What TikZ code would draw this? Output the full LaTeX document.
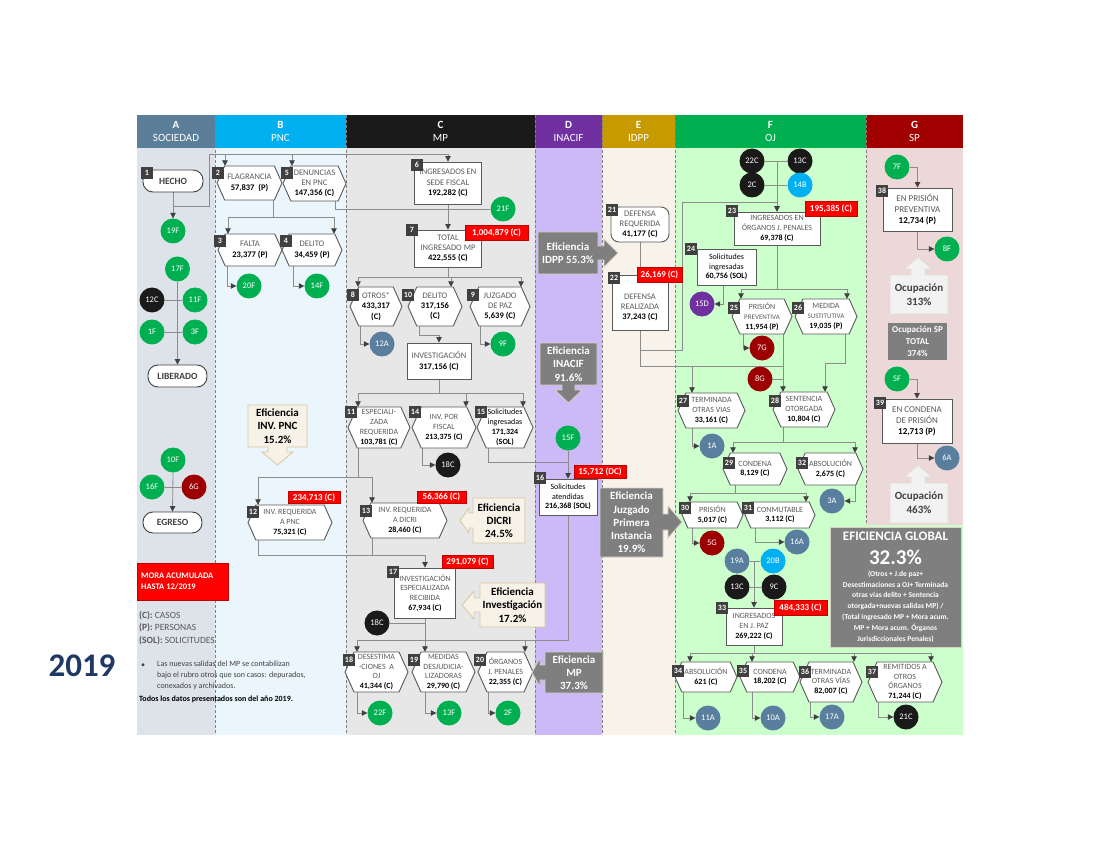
\documentclass[tikz,border=0pt]{standalone}
\usepackage{fontspec}
\setmainfont{Carlito}
\usetikzlibrary{arrows.meta}
\definecolor{bgA}{HTML}{DDE3E9}
\definecolor{bgB}{HTML}{EAF6FC}
\definecolor{bgC}{HTML}{E7E7E7}
\definecolor{bgD}{HTML}{CCB9F7}
\definecolor{bgE}{HTML}{F8F3EA}
\definecolor{bgF}{HTML}{CCFFCC}
\definecolor{bgG}{HTML}{ECD8D8}
\definecolor{hdA}{HTML}{5B7F99}
\definecolor{hdB}{HTML}{00B0F0}
\definecolor{hdC}{HTML}{1A1A1A}
\definecolor{hdD}{HTML}{7030A0}
\definecolor{hdE}{HTML}{C79A00}
\definecolor{hdF}{HTML}{00B050}
\definecolor{hdG}{HTML}{A00000}
\definecolor{lblgray}{HTML}{5A5A5A}
\definecolor{boxc}{HTML}{595959}
\definecolor{linec}{HTML}{8C8C8C}
\definecolor{tipc}{HTML}{404040}
\definecolor{badgec}{HTML}{404040}
\definecolor{cgreen}{HTML}{00B050}
\definecolor{cblack}{HTML}{1A1A1A}
\definecolor{cblue}{HTML}{5A7F9E}
\definecolor{cdred}{HTML}{9C0000}
\definecolor{ccyan}{HTML}{00B0F0}
\definecolor{cpurple}{HTML}{7030A0}
\definecolor{callg}{HTML}{7F7F7F}
\definecolor{callgb}{HTML}{D9D2C3}
\definecolor{cream}{HTML}{F6F2E8}
\definecolor{creamb}{HTML}{D6C6A3}
\definecolor{ocup}{HTML}{F2F2F2}
\definecolor{ocupb}{HTML}{E3DDCB}
\definecolor{navy}{HTML}{1F3864}
\definecolor{redb}{HTML}{C00000}
\pgfdeclarelayer{back}
\pgfdeclarelayer{lines}
\pgfsetlayers{back,lines,main}
\newcommand\lbl[1]{{\color{lblgray}#1}}
\newcommand\nmb[1]{{\bfseries\color{black}#1}}
\newcommand\hexn[7][]{%
  \draw[hexd] ({#3-#5},#4) -- ({#3-#5+0.45*#6},{#4-#6}) -- ({#3+#5-0.45*#6},{#4-#6}) -- ({#3+#5},#4) -- ({#3+#5-0.45*#6},{#4+#6}) -- ({#3-#5+0.45*#6},{#4+#6}) -- cycle;
  \node[txt,minimum width={2*#5},minimum height={2*#6},#1] (#2) at (#3,#4) {#7};}
\newcommand\badge[2]{\node[badge] (b#1) at (#2) {#1};}
\newcommand\circn[4]{\node[circ,fill=#4] (#1) at (#2) {#3};}
\begin{document}
\begin{tikzpicture}[x=1pt,y=-1pt,
  txt/.style={align=center, inner sep=0pt, font=\fontsize{8.5}{10.3}\selectfont},
  sm/.style={font=\fontsize{8}{9.8}\selectfont},
  hexd/.style={draw=boxc, fill=white, line width=0.9pt},
  rbx/.style={txt, draw=boxc, fill=white, line width=0.9pt},
  rnd/.style={draw=tipc, fill=white, line width=0.9pt, rounded corners=10pt, inner sep=0pt, font=\bfseries\fontsize{9.5}{11}\selectfont, text=tipc},
  badge/.style={fill=badgec, text=white, inner sep=0pt, minimum width=11.5, minimum height=12, font=\bfseries\fontsize{8}{9}\selectfont},
  circ/.style={circle, inner sep=0pt, minimum size=25, text=white, font=\fontsize{8.5}{9}\selectfont},
  redl/.style={fill=red, draw=redb, line width=0.5pt, text=white, inner sep=0pt, font=\bfseries\fontsize{9}{10}\selectfont},
  conn/.style={draw=linec, line width=0.8pt},
  arr/.style={conn, -{Triangle[length=5.5pt,width=5.5pt,color=tipc]}},
  colsep/.style={draw=gray, line width=0.7pt, dash pattern=on 3pt off 2pt},
  hdr/.style={text=white, align=center, inner sep=0pt, font=\fontsize{11}{13}\selectfont},
  cgr/.style={fill=callg, draw=callgb, line width=0.8pt},
  cgt/.style={text=white, align=center, inner sep=0pt, font=\bfseries\fontsize{11}{13.3}\selectfont},
  ccr/.style={fill=cream, draw=creamb, line width=0.8pt},
  cct/.style={text=black, align=center, inner sep=0pt, font=\bfseries\fontsize{11}{13.3}\selectfont},
  ocs/.style={fill=ocup, draw=ocupb, line width=0.8pt},
  oct/.style={text=tipc, align=center, inner sep=0pt, font=\bfseries\fontsize{11}{13.7}\selectfont}]
\useasboundingbox (0,0) rectangle (1100,850);
\begin{pgfonlayer}{back}
\fill[white] (0,0) rectangle (1100,850);
\fill[bgA] (137,148) rectangle (215,735);
\fill[bgB] (215,148) rectangle (346,735);
\fill[bgC] (346,148) rectangle (535,735);
\fill[bgD] (535,148) rectangle (602,735);
\fill[bgE] (602,148) rectangle (675,735);
\fill[bgF] (675,148) rectangle (866,735);
\fill[bgG] (866,148) rectangle (963,525);
\fill[bgF] (866,525) rectangle (963,735);
\fill[hdA] (137,115) rectangle (215,148);
\fill[hdB] (215,115) rectangle (346,148);
\fill[hdC] (346,115) rectangle (535,148);
\fill[hdD] (535,115) rectangle (602,148);
\fill[hdE] (602,115) rectangle (675,148);
\fill[hdF] (675,115) rectangle (866,148);
\fill[hdG] (866,115) rectangle (963,148);
\foreach \xx in {215,346,535,602,675} \draw[colsep] (\xx,115) -- (\xx,735);
\draw[colsep] (866,115) -- (866,525);
\end{pgfonlayer}
% headers
\node[hdr] (hA) at (176,131) {\textbf{A}\\SOCIEDAD};
\node[hdr] (hB) at (280.5,131) {\textbf{B}\\PNC};
\node[hdr] (hC) at (440.5,131) {\textbf{C}\\MP};
\node[hdr] (hD) at (568.5,131) {\textbf{D}\\INACIF};
\node[hdr] (hE) at (638.5,131) {\textbf{E}\\IDPP};
\node[hdr] (hF) at (770.5,131) {\textbf{F}\\OJ};
\node[hdr] (hG) at (914.5,131) {\textbf{G}\\SP};
% column A
\node[rnd, minimum width=60, minimum height=22] (n1) at (173,181) {HECHO};
\node[rnd, minimum width=59, minimum height=22] (nLib) at (177.5,376) {LIBERADO};
\node[rnd, minimum width=59, minimum height=21] (nEgr) at (172.5,522.5) {EGRESO};
\badge{1}{147,173}
\circn{c19F}{173,231}{19F}{cgreen}
\circn{c17F}{177.5,269}{17F}{cgreen}
\circn{c12C}{152,300}{12C}{cblack}
\circn{c11F}{195,300}{11F}{cgreen}
\circn{c1F}{152,332}{1F}{cgreen}
\circn{c3F}{195,332}{3F}{cgreen}
\circn{c10F}{173,460}{10F}{cgreen}
\circn{c16F}{152,487}{16F}{cgreen}
\circn{c6G}{194,487}{6G}{cdred}
\node[fill=red, draw=redb, minimum width=91, minimum height=37, inner sep=0] (mora) at (182.5,581.5) {};
\node[anchor=west, align=left, text=white, font=\bfseries\fontsize{8.5}{11}\selectfont, inner sep=0] (moratx) at (141,581.5) {MORA ACUMULADA\\HASTA 12/2019};
\node[anchor=north west, align=left, inner sep=0, text=lblgray, font=\fontsize{9.5}{12.4}\selectfont] (leg) at (139,611) {\textbf{(C):} CASOS\\\textbf{(P):} PERSONAS\\\textbf{(SOL):} SOLICITUDES};
\node[anchor=west, inner sep=0, text=tipc, font=\fontsize{8}{10.7}\selectfont] (bul) at (141,666) {•};
\node[anchor=north west, align=left, inner sep=0, text=tipc, font=\fontsize{8}{10.7}\selectfont] (bultx) at (157,661) {Las nuevas salidas del MP se contabilizan\\bajo el rubro otros que son casos: depurados,\\conexados y archivados.};
\node[anchor=west, inner sep=0, font=\bfseries\fontsize{8}{10}\selectfont] (todos) at (139,699) {Todos los datos presentados son del año 2019.};
\node[text=navy, font=\bfseries\fontsize{33}{35}\selectfont, inner sep=0] (yr) at (82,666) {2019};
% column B
\hexn{n2}{249.5}{183}{32.5}{17}{\lbl{FLAGRANCIA}\\\nmb{57,837~~(P)}}
\hexn{n5}{314.5}{183.5}{31.5}{17.5}{\lbl{DENUNCIAS}\\\lbl{EN PNC}\\\nmb{147,356 (C)}}
\hexn{n3}{250}{250}{32}{16}{\lbl{FALTA}\\\nmb{23,377 (P)}}
\hexn{n4}{312}{250}{30}{16}{\lbl{DELITO}\\\nmb{34,459 (P)}}
\hexn[sm]{n12}{290}{522.5}{42}{17.5}{\lbl{INV. REQUERIDA}\\\lbl{A PNC}\\\nmb{75,321 (C)}}
\badge{2}{218,173}
\badge{5}{287,173}
\badge{3}{220,241}
\badge{4}{286,241}
\badge{12}{253,512}
\circn{c20F}{249,286}{20F}{cgreen}
\circn{c14F}{317,286}{14F}{cgreen}
\filldraw[ccr] (248,405) -- (307,405) -- (307,447) -- (287,447) -- (287,452) -- (293,452) -- (277.5,465) -- (262,452) -- (268,452) -- (268,447) -- (248,447) -- cycle;
\node[cct] (eInv) at (277.5,426) {Eficiencia\\INV. PNC\\15.2\%};
% column C
\node[rbx, minimum width=67, minimum height=42] (n6) at (448,183) {\lbl{INGRESADOS EN}\\\lbl{SEDE FISCAL}\\\nmb{192,282 (C)}};
\node[rbx, minimum width=67, minimum height=37] (n7) at (448,248.5) {\lbl{TOTAL}\\\lbl{INGRESADO MP}\\\nmb{422,555 (C)}};
\hexn{n8}{376}{306.5}{26}{19.5}{\lbl{OTROS*}\\\nmb{433,317}\\\nmb{(C)}}
\hexn{n10}{435}{306.5}{27}{19.5}{\lbl{DELITO}\\\nmb{317,156}\\\nmb{(C)}}
\hexn{n9}{500}{306.5}{30}{19.5}{\lbl{JUZGADO}\\\lbl{DE PAZ}\\\nmb{5,639 (C)}}
\node[rbx, minimum width=64, minimum height=36] (nInv) at (439,361) {\lbl{INVESTIGACIÓN}\\\nmb{317,156 (C)}};
\hexn[sm]{n11}{379}{427.5}{31}{20.5}{\lbl{ESPECIALI-}\\\lbl{ZADA}\\\lbl{REQUERIDA}\\\nmb{103,781 (C)}}
\hexn[sm]{n14}{444}{427.5}{32}{20.5}{\lbl{INV. POR}\\\lbl{FISCAL}\\\nmb{213,375 (C)}}
\hexn[sm]{n15}{505}{427.5}{28}{20.5}{Solicitudes\\ingresadas\\\nmb{171,324}\\\nmb{(SOL)}}
\hexn[sm]{n13}{405}{520.5}{42}{17.5}{\lbl{INV. REQUERIDA}\\\lbl{A DICRI}\\\nmb{28,460 (C)}}
\node[rbx, sm, minimum width=61, minimum height=50] (n17) at (425,593) {\lbl{INVESTIGACIÓN}\\\lbl{ESPECIALIZADA}\\\lbl{RECIBIDA}\\\nmb{67,934 (C)}};
\hexn[sm]{n18}{376.5}{672}{31.5}{20}{\lbl{DESESTIMA}\\\lbl{-CIONES~~A}\\\lbl{OJ}\\\nmb{41,344 (C)}}
\hexn[sm]{n19}{443.5}{672}{31.5}{20}{\lbl{MEDIDAS}\\\lbl{DESJUDICIA-}\\\lbl{LIZADORAS}\\\nmb{29,790 (C)}}
\hexn[sm]{n20}{505.5}{672}{27.5}{20}{\lbl{ÓRGANOS}\\\lbl{J. PENALES}\\\nmb{22,355 (C)}}
\badge{6}{417,165}
\badge{7}{412,230}
\badge{8}{353,295}
\badge{10}{408,295}
\badge{9}{473,295}
\badge{11}{351,412}
\badge{14}{415,412}
\badge{15}{481,412}
\badge{13}{366,511}
\badge{17}{393,572}
\badge{18}{349,660}
\badge{19}{414,660}
\badge{20}{480,660}
\circn{c21F}{503,209}{21F}{cgreen}
\circn{c12A}{382,344}{12A}{cblue}
\circn{c9F}{503,344}{9F}{cgreen}
\circn{c18Ca}{448,465}{18C}{cblack}
\circn{c18Cb}{377,623}{18C}{cblack}
\circn{c22F}{380,713}{22F}{cgreen}
\circn{c13F}{449,713}{13F}{cgreen}
\circn{c2F}{508,713}{2F}{cgreen}
\filldraw[ccr] (473,498) -- (525,498) -- (525,543) -- (473,543) -- (473,528) -- (469,528) -- (469,533) -- (460,520.5) -- (469,508) -- (469,513) -- (473,513) -- cycle;
\node[cct] (eDicri) at (499,520.5) {Eficiencia\\DICRI\\24.5\%};
\filldraw[ccr] (480,583) -- (545,583) -- (545,627) -- (480,627) -- (480,612) -- (474,612) -- (474,619) -- (462,605) -- (474,591) -- (474,598) -- (480,598) -- cycle;
\node[cct] (eInvest) at (512.5,605) {Eficiencia\\Investigación\\17.2\%};
% column D
\node[rbx, sm, minimum width=58, minimum height=36] (n16) at (568,497) {Solicitudes\\atendidas\\\nmb{216,368 (SOL)}};
\badge{16}{540,478}
\circn{c15F}{568,438}{15F}{cgreen}
\filldraw[cgr] (538,232) -- (598,232) -- (598,246) -- (604,246) -- (604,239) -- (618,253) -- (604,267) -- (604,260) -- (598,260) -- (598,274) -- (538,274) -- cycle;
\node[cgt] (eIdpp) at (568,253) {Eficiencia\\IDPP 55.3\%};
\filldraw[cgr] (540,343) -- (597,343) -- (597,385) -- (575,385) -- (575,390) -- (582,390) -- (568.5,403) -- (555,390) -- (562,390) -- (562,385) -- (540,385) -- cycle;
\node[cgt] (eInacif) at (568.5,364) {Eficiencia\\INACIF\\91.6\%};
\filldraw[cgr] (545,652) -- (603,652) -- (603,693) -- (545,693) -- (545,680) -- (540,680) -- (540,687) -- (532,672.5) -- (540,658) -- (540,665) -- (545,665) -- cycle;
\node[cgt] (eMP) at (574,672.5) {Eficiencia\\MP\\37.3\%};
% column E
\node[rbx, minimum width=58, minimum height=35, rounded corners=8pt] (n21) at (640,224.5) {\lbl{DEFENSA}\\\lbl{REQUERIDA}\\\nmb{41,177 (C)}};
\node[rbx, minimum width=56, minimum height=55] (n22) at (640,302.5) {\rule{0pt}{9pt}\\[-4pt]\lbl{DEFENSA}\\\lbl{REALIZADA}\\\nmb{37,243 (C)}};
\badge{21}{612,210}
\badge{22}{614,278}
\filldraw[cgr] (600,488) -- (663,488) -- (663,514) -- (668,514) -- (668,506) -- (682,522) -- (668,538) -- (668,530) -- (663,530) -- (663,557) -- (600,557) -- cycle;
\node[cgt] (eJuz) at (631.5,522.5) {Eficiencia\\Juzgado\\Primera\\Instancia\\19.9\%};
% column F
\node[rbx, sm, minimum width=86, minimum height=33] (n23) at (777,228.5) {\lbl{INGRESADOS EN}\\\lbl{ÓRGANOS J. PENALES}\\\nmb{69,378 (C)}};
\node[rbx, sm, minimum width=59, minimum height=36] (n24) at (726.5,267) {Solicitudes\\ingresadas\\\nmb{60,756 (SOL)}};
\hexn[sm]{n25}{762}{316.5}{30}{17.5}{\lbl{PRISIÓN}\\\lbl{\fontsize{7}{8}\selectfont PREVENTIVA}\\\nmb{11,954 (P)}}
\hexn[sm]{n26}{826}{316.5}{31}{17.5}{\lbl{MEDIDA}\\\lbl{\fontsize{7}{8}\selectfont SUSTITUTIVA}\\\nmb{19,035 (P)}}
\hexn[sm]{n27}{711.5}{410.5}{33.5}{17.5}{\lbl{TERMINADA}\\\lbl{OTRAS VIAS}\\\nmb{33,161 (C)}}
\hexn[sm]{n28}{804}{409.5}{31}{17.5}{\lbl{SENTENCIA}\\\lbl{OTORGADA}\\\nmb{10,804 (C)}}
\hexn[sm]{n29}{755}{469}{32}{16}{\lbl{CONDENA}\\\nmb{8,129 (C)}}
\hexn[sm]{n32}{830.5}{469}{32.5}{16}{\lbl{ABSOLUCIÓN}\\\nmb{2,675 (C)}}
\hexn[sm]{n30}{712.5}{515}{30.5}{13}{\lbl{PRISIÓN}\\\nmb{5,017 (C)}}
\hexn[sm]{n31}{780}{515}{35}{13}{\lbl{CONMUTABLE}\\\nmb{3,112 (C)}}
\node[rbx, sm, minimum width=56, minimum height=37] (n33) at (754,626.5) {\lbl{INGRESADOS}\\\lbl{EN J. PAZ}\\\nmb{269,222 (C)}};
\hexn[sm]{n34}{706}{677}{31}{15}{\lbl{ABSOLUCIÓN}\\\nmb{621 (C)}}
\hexn[sm]{n35}{770}{677}{30}{15}{\lbl{CONDENA}\\\nmb{18,202 (C)}}
\hexn[sm]{n36}{831}{682}{31}{20}{\lbl{TERMINADA}\\\lbl{OTRAS VÍAS}\\\nmb{82,007 (C)}}
\hexn[sm]{n37}{905}{682}{37}{20}{\lbl{REMITIDOS A}\\\lbl{OTROS}\\\lbl{ÓRGANOS}\\\nmb{71,244 (C)}}
\badge{23}{732,211}
\badge{24}{691,249}
\badge{25}{734,308}
\badge{26}{798,308}
\badge{27}{683,401}
\badge{28}{775,401}
\badge{29}{729,463}
\badge{32}{802,463}
\badge{30}{685,508}
\badge{31}{748,508}
\badge{33}{722,608}
\badge{34}{678,671}
\badge{35}{743,671}
\badge{36}{805,672}
\badge{37}{872,672}
\circn{c22C}{752,161}{22C}{cblack}
\circn{c13Ca}{800,161}{13C}{cblack}
\circn{c2C}{752,185}{2C}{cblack}
\circn{c14B}{800,185}{14B}{ccyan}
\circn{c15D}{702,304}{15D}{cpurple}
\circn{c7G}{762,348}{7G}{cdred}
\circn{c8G}{760,379}{8G}{cdred}
\circn{c1A}{712,446}{1A}{cblue}
\circn{c3A}{832,501}{3A}{cblue}
\circn{c5G}{712,543}{5G}{cdred}
\circn{c16A}{797,542}{16A}{cblue}
\circn{c19A}{737,561}{19A}{cblue}
\circn{c20B}{773,561}{20B}{ccyan}
\circn{c13Cb}{737,587}{13C}{cblack}
\circn{c9C}{774,587}{9C}{cblack}
\circn{c11A}{708,718}{11A}{cblue}
\circn{c10A}{773,718}{10A}{cblue}
\circn{c17A}{832,717}{17A}{cblue}
\circn{c21C}{906,717}{21C}{cblack}
% column G
\node[rbx, font=\fontsize{9}{11}\selectfont, minimum width=69, minimum height=43] (n38) at (917.5,209.5) {\lbl{EN PRISIÓN}\\\lbl{PREVENTIVA}\\\nmb{12,734 (P)}};
\node[rbx, font=\fontsize{9}{11}\selectfont, minimum width=70, minimum height=44] (n39) at (917,421) {\lbl{EN CONDENA}\\\lbl{DE PRISIÓN}\\\nmb{12,713 (P)}};
\badge{38}{882,191}
\badge{39}{880,403}
\circn{c7F}{897,167}{7F}{cgreen}
\circn{c8F}{947,249}{8F}{cgreen}
\circn{c5F}{897,379}{5F}{cgreen}
\circn{c6A}{947,458}{6A}{cblue}
\filldraw[ocs] (890,275) -- (911,275) -- (911,269) -- (904,269) -- (918,257) -- (932,269) -- (925,269) -- (925,275) -- (948,275) -- (948,314) -- (890,314) -- cycle;
\node[oct] (oc1) at (919,294.5) {Ocupación\\313\%};
\filldraw[ocs] (890,483) -- (911,483) -- (911,477) -- (904,477) -- (918,465) -- (932,477) -- (925,477) -- (925,483) -- (948,483) -- (948,523) -- (890,523) -- cycle;
\node[oct] (oc2) at (919,503) {Ocupación\\463\%};
\node[fill=callg, text=white, align=center, minimum width=59, minimum height=37, inner sep=0, font=\bfseries\fontsize{9}{12}\selectfont] (spt) at (917.5,341.5) {Ocupación SP\\TOTAL\\374\%};
\node[fill=callg, draw=callgb, line width=0.8pt, minimum width=131, minimum height=120, inner sep=0] (eg) at (895.5,587) {};
\node[text=white, inner sep=0, font=\bfseries\fontsize{13}{14}\selectfont] (egt) at (895.5,536) {EFICIENCIA GLOBAL};
\node[text=white, inner sep=0, font=\bfseries\fontsize{21}{22}\selectfont] (egp) at (895.5,557) {32.3\%};
\node[text=white, align=center, inner sep=0, font=\bfseries\fontsize{7.5}{10.8}\selectfont] (egf) at (895.5,606.5) {(Otros + J.de paz+\\Desestimaciones a OJ+ Terminada\\otras vías delito + Sentencia\\otorgada+nuevas salidas MP) /\\(Total ingresado MP + Mora acum.\\MP + Mora acum. Órganos\\Jurisdiccionales Penales)};
% red labels
\node[redl, minimum width=63, minimum height=15] (r1) at (496.5,232.5) {1,004,879 (C)};
\node[redl, minimum width=52, minimum height=12] (r2) at (314,497.5) {234,713 (C)};
\node[redl, minimum width=49, minimum height=12] (r3) at (441.5,497) {56,366 (C)};
\node[redl, minimum width=51, minimum height=13] (r4) at (467.5,561.5) {291,079 (C)};
\node[redl, minimum width=52, minimum height=13] (r5) at (600,471.5) {15,712 (DC)};
\node[redl, minimum width=45, minimum height=15] (r6) at (659.5,274.5) {26,169 (C)};
\node[redl, minimum width=52, minimum height=15] (r7) at (831,208.5) {195,385 (C)};
\node[redl, minimum width=53, minimum height=15] (r8) at (800.5,607.5) {484,333 (C)};
% connectors
\begin{pgfonlayer}{lines}
\draw[arr] (n1.south) -- (c19F.north);
\draw[conn] (173,206) -- (209,206) -- (209,154) -- (448,154);
\draw[arr] (209,154) -| (n6.north);
\draw[arr] (225,154) -- (n2.north -| 225,0);
\draw[arr] (292,154) -- (n5.north -| 292,0);
\draw[arr] (c17F.south) -- (nLib.north);
\draw[conn] (c12C) -- (c11F);
\draw[conn] (c1F) -- (c3F);
\draw[arr] (c10F.south) -- (nEgr.north);
\draw[conn] (c16F) -- (c6G);
\draw[arr] (n2.south -| 273,0) |- (228,217) -- (n3.north -| 228,0);
\draw[arr] (273,217) -| (n4.north -| 334,0);
\draw[arr] (n3.south -| 227,0) |- (c20F.west);
\draw[arr] (n4.south -| 293,0) |- (c14F.west);
\draw[conn] (n5.south -| 335,0) |- (c21F.west);
\draw[arr] (n6.south) -- (n7.north);
\draw[conn] (n7.south) -- (448,277);
\draw[conn] (358,277) -- (521,277);
\draw[arr] (358,277) -- (n8.north -| 358,0);
\draw[arr] (451,277) -- (n10.north -| 451,0);
\draw[arr] (521,277) -- (n9.north -| 521,0);
\draw[arr] (n8.south -| 360,0) |- (c12A.west);
\draw[arr] (n10.south -| 419,0) |- (439,335) -- (nInv.north);
\draw[arr] (n9.south -| 480,0) |- (c9F.west);
\draw[conn] (nInv.south) -- (439,393);
\draw[conn] (358,393) -- (523,393);
\draw[arr] (358,393) -- (n11.north -| 358,0);
\draw[arr] (466,393) -- (n14.north -| 466,0);
\draw[arr] (523,393) -- (n15.north -| 523,0);
\draw[arr] (n14.south -| 422,0) |- (c18Ca.west);
\draw[conn] (n15.south -| 488,0) |- (568,462);
\draw[arr] (c15F.south) -- (n16.north);
\draw[arr] (n11.south -| 358,0) |- (258,477) -- (n12.north -| 258,0);
\draw[arr] (358,477) -| (n13.north -| 372,0);
\draw[arr] (n12.south -| 258,0) |- (425,555) -- (n17.north);
\draw[conn] (n13.south -| 372,0) -- (372,555);
\draw[conn] (c18Cb.east) -- (425,623);
\draw[conn] (n17.south) -- (425,640);
\draw[conn] (357,640) -- (568,640) -- (n16.south);
\draw[arr] (357,640) -- (n18.north -| 357,0);
\draw[arr] (425,640) -- (n19.north -| 425,0);
\draw[arr] (525,640) -- (n20.north -| 525,0);
\draw[arr] (n18.south -| 357,0) |- (c22F.west);
\draw[arr] (n19.south -| 425,0) |- (c13F.west);
\draw[arr] (n20.south -| 488,0) |- (c2F.west);
\draw[conn] (n21.south) -- (n22.north);
\draw[conn] (n22.south) -- (640,366) -- (783,366);
\draw[arr] (640,350) -| (682,202) -| (n23.north);
\draw[arr] (692,366) -- (n27.north -| 692,0);
\draw[arr] (n27.south -| 692,0) |- (c1A.west);
\draw[conn] (c22C) -- (c13Ca);
\draw[conn] (c2C) -- (c14B);
\draw[arr] (777,161) -- (n23.north);
\draw[conn] (n23.south) -- (777,289);
\draw[conn] (741,289) -- (847,289);
\draw[arr] (741,289) -- (n25.north -| 741,0);
\draw[arr] (847,289) -- (n26.north -| 847,0);
\draw[arr] (n24.south -| 723,0) |- (c15D.east);
\draw[arr] (n25.south -| 743,0) |- (c7G.west);
\draw[arr] (n25.south -| 783,0) -- (n28.north -| 783,0);
\draw[conn] (c8G.east) -- (783,379);
\draw[arr] (n26.south -| 845,0) |- (825,363) -- (n28.north -| 825,0);
\draw[conn] (n28.south -| 783,0) -- (783,442);
\draw[conn] (733,442) -- (855,442);
\draw[arr] (733,442) -- (n29.north -| 733,0);
\draw[arr] (855,442) -- (n32.north -| 855,0);
\draw[arr] (n32.south -| 855,0) |- (c3A.east);
\draw[conn] (n29.south -| 735,0) -- (735,493);
\draw[conn] (690,493) -- (806,493);
\draw[arr] (690,493) -- (n30.north -| 690,0);
\draw[arr] (806,493) -- (n31.north -| 806,0);
\draw[arr] (n30.south -| 692,0) |- (c5G.west);
\draw[arr] (n31.south -| 755,0) |- (c16A.west);
\draw[conn] (c19A) -- (c20B);
\draw[conn] (c13Cb) -- (c9C);
\draw[arr] (754,561) -- (n33.north);
\draw[conn] (n33.south) -- (754,653);
\draw[conn] (690,653) -- (931,653);
\draw[arr] (690,653) -- (n34.north -| 690,0);
\draw[arr] (752,653) -- (n35.north -| 752,0);
\draw[arr] (854,653) -- (n36.north -| 854,0);
\draw[arr] (931,653) -- (n37.north -| 931,0);
\draw[arr] (n34.south -| 683,0) |- (c11A.west);
\draw[arr] (n35.south -| 752,0) |- (c10A.west);
\draw[arr] (n36.south -| 810,0) |- (c17A.west);
\draw[arr] (n37.south -| 878,0) |- (c21C.west);
\draw[arr] (c7F.east) -| (n38.north);
\draw[arr] (n38.south) |- (c8F.west);
\draw[arr] (c5F.east) -| (n39.north);
\draw[arr] (n39.south) |- (c6A.west);
\end{pgfonlayer}
\end{tikzpicture}
\end{document}
